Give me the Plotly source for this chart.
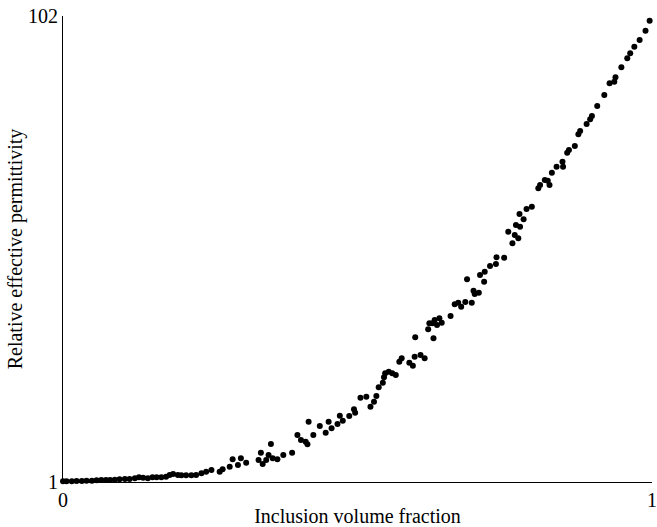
import plotly.graph_objects as go

# Inclusion volume fraction (x) and relative effective permittivity (y)
volume_fraction = [
    0.000, 0.006, 0.015, 0.023, 0.032, 0.040, 0.049, 0.057, 0.065, 0.073,
    0.080, 0.088, 0.096, 0.105, 0.113, 0.122, 0.129, 0.136, 0.144, 0.152,
    0.159, 0.167, 0.175, 0.181, 0.187, 0.195, 0.201, 0.209, 0.218, 0.226,
    0.235, 0.243, 0.252, 0.266, 0.271, 0.283, 0.288, 0.297, 0.302, 0.311,
    0.332, 0.336, 0.339, 0.345, 0.349, 0.353, 0.356, 0.364, 0.374, 0.389,
    0.398, 0.404, 0.412, 0.415, 0.417, 0.425, 0.436, 0.446, 0.451, 0.456,
    0.466, 0.470, 0.475, 0.486, 0.494, 0.496, 0.505, 0.515, 0.522, 0.528,
    0.532, 0.536, 0.543, 0.545, 0.547, 0.553, 0.559, 0.565, 0.571, 0.575,
    0.588, 0.594, 0.597, 0.598, 0.607, 0.614, 0.620, 0.622, 0.627, 0.629,
    0.631, 0.635, 0.639, 0.643, 0.658, 0.665, 0.671, 0.676, 0.683, 0.686,
    0.694, 0.697, 0.699, 0.706, 0.708, 0.715, 0.716, 0.725, 0.735, 0.736,
    0.749, 0.756, 0.763, 0.767, 0.769, 0.773, 0.775, 0.776, 0.782, 0.787,
    0.796, 0.807, 0.810, 0.818, 0.823, 0.826, 0.830, 0.838, 0.848, 0.849,
    0.856, 0.859, 0.869, 0.875, 0.878, 0.889, 0.895, 0.898, 0.907, 0.919,
    0.928, 0.936, 0.938, 0.948, 0.958, 0.963, 0.970, 0.979, 0.989, 0.996,
]
permittivity = [
    1.15, 1.15, 1.15, 1.22, 1.22, 1.28, 1.28, 1.37, 1.43, 1.43,
    1.43, 1.50, 1.59, 1.65, 1.65, 1.80, 2.02, 1.93, 1.80, 2.02,
    2.02, 2.02, 2.15, 2.52, 2.73, 2.52, 2.45, 2.45, 2.45, 2.52,
    2.89, 3.23, 3.60, 3.23, 3.75, 4.32, 5.92, 4.68, 6.14, 5.18,
    5.77, 7.35, 4.90, 5.77, 6.85, 9.24, 6.14, 5.92, 6.85, 7.35,
    11.19, 10.10, 9.73, 9.17, 14.07, 11.19, 13.14, 11.69, 14.07, 12.64,
    13.57, 15.37, 14.29, 15.30, 16.76, 16.02, 19.27, 19.49, 17.32, 18.40,
    19.64, 21.53, 22.52, 23.69, 24.56, 24.91, 24.56, 24.19, 27.07, 27.81,
    26.86, 26.21, 28.16, 32.36, 28.53, 27.81, 34.10, 35.40, 35.40, 32.15,
    36.11, 35.03, 36.48, 35.53, 36.98, 39.52, 39.86, 39.00, 40.01, 44.93,
    39.86, 42.46, 41.75, 42.03, 45.87, 44.41, 46.58, 47.82, 48.25, 49.70,
    49.61, 55.25, 52.74, 54.54, 56.70, 53.82, 59.09, 56.33, 57.94, 60.17,
    60.67, 64.66, 65.37, 66.46, 66.31, 65.37, 68.04, 69.34, 70.42, 69.34,
    72.37, 72.96, 73.82, 76.36, 77.07, 78.59, 79.61, 80.33, 82.49, 84.88,
    87.41, 87.76, 88.71, 90.88, 92.83, 93.92, 95.35, 96.80, 98.82, 100.98,
]

x_range = [0, 1]
y_range = [1, 102]
x_ticks = [0, 1]
y_ticks = [1, 102]

FONT = "Liberation Serif, Times New Roman, serif"

fig = go.Figure(
    go.Scatter(
        x=volume_fraction,
        y=permittivity,
        mode="markers",
        marker=dict(color="black", size=6, line=dict(width=0)),
        showlegend=False,
        cliponaxis=False,
    )
)

fig.update_layout(
    width=657,
    height=527,
    margin=dict(l=63, r=5, t=16, b=45, autoexpand=False),
    paper_bgcolor="white",
    plot_bgcolor="white",
    font=dict(family=FONT, size=20, color="black"),
)

fig.update_xaxes(
    range=x_range,
    tickvals=x_ticks,
    ticktext=[str(v) for v in x_ticks],
    ticks="inside",
    ticklen=6,
    tickwidth=1,
    tickcolor="black",
    ticklabeloverflow="allow",
    automargin=False,
    showline=True,
    linecolor="black",
    linewidth=1,
    showgrid=False,
    zeroline=False,
    title=dict(text="Inclusion volume fraction", standoff=3,
               font=dict(family=FONT, size=20)),
)
fig.update_yaxes(
    range=y_range,
    tickvals=y_ticks,
    ticktext=[str(v) for v in y_ticks],
    ticks="inside",
    ticklen=6,
    tickwidth=1,
    tickcolor="black",
    ticklabeloverflow="allow",
    automargin=False,
    showline=True,
    linecolor="black",
    linewidth=1,
    showgrid=False,
    zeroline=False,
    title=dict(text="Relative effective permittivity", standoff=0,
               font=dict(family=FONT, size=20)),
)

fig.write_html("out.html")
